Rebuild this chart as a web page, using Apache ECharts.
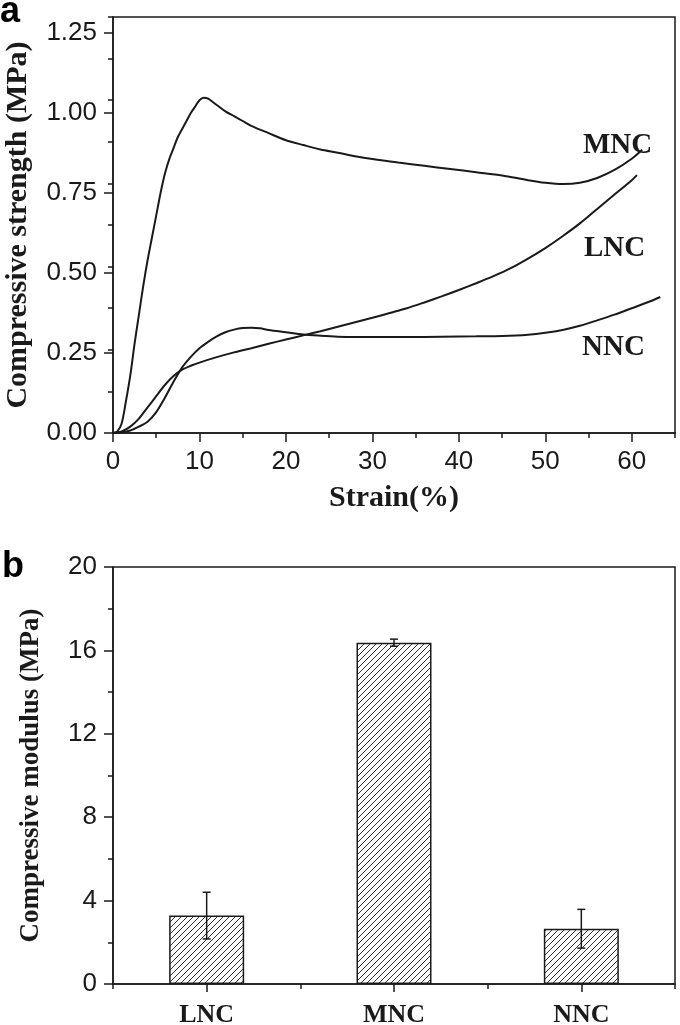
<!DOCTYPE html>
<html>
<head>
<meta charset="utf-8">
<script src="https://cdn.jsdelivr.net/npm/echarts@6/dist/echarts.min.js"></script>
<style>
html,body{margin:0;padding:0;background:#fff;}
#chart{width:680px;height:1025px;}
</style>
</head>
<body>
<div id="chart"></div>
<script>
// ---- Panel a: stress-strain curves ----
const mncX = [0,0.5,1,1.5,2,2.5,3,3.5,4,4.5,5,5.5,6,6.5,7,7.5,8,8.5,9,9.5,10,10.5,11,12,13,14,15,16,18,20,22,24,26,28,30,33,36,39,42,45,48,50,52,54,56,58,60,61.2];
const mncY = [0,0.005,0.03,0.1,0.18,0.28,0.37,0.46,0.54,0.61,0.68,0.75,0.81,0.855,0.89,0.925,0.95,0.975,1.0,1.02,1.04,1.048,1.045,1.025,1.005,0.99,0.975,0.96,0.937,0.915,0.9,0.886,0.876,0.865,0.856,0.845,0.835,0.825,0.815,0.805,0.79,0.782,0.778,0.782,0.797,0.822,0.857,0.885];

const lncX = [0,1,2,3,4,5,6,7,8,9,10,12,14,16,18,20,22,24,26,28,30,32,34,36,38,40,42,44,46,48,50,52,54,56,58,60,60.6];
const lncY = [0,0.005,0.02,0.045,0.08,0.115,0.15,0.178,0.198,0.21,0.22,0.237,0.252,0.265,0.279,0.292,0.305,0.318,0.332,0.346,0.36,0.375,0.39,0.408,0.427,0.447,0.468,0.49,0.515,0.545,0.578,0.615,0.655,0.70,0.745,0.79,0.806];

const nncX = [0,1,2,3,4,5,6,7,8,9,10,11,12,13,14,15,16,17,18,20,22,24,26,28,30,34,38,42,45,48,50,52,54,56,58,60,62,63.3];
const nncY = [0,0.002,0.008,0.02,0.035,0.065,0.11,0.16,0.205,0.238,0.265,0.285,0.302,0.315,0.323,0.328,0.329,0.327,0.322,0.315,0.308,0.304,0.301,0.3,0.3,0.3,0.301,0.302,0.303,0.307,0.313,0.322,0.335,0.352,0.37,0.39,0.41,0.425];

const curveNames = ['MNC','LNC','NNC'];

// ---- Panel b: compressive modulus ----
const barCategories = ['LNC','MNC','NNC'];
const modulusMean = [3.28, 16.37, 2.65];
const modulusErr = [1.12, 0.17, 0.93];

const SERIF = '"Liberation Serif","Times New Roman",serif';
const SANS = '"Liberation Sans",Arial,sans-serif';
const INK = '#1a1a1a';

function zip(xs, ys){ return xs.map((x,i)=>[x, ys[i]]); }

// hatch pattern
const tile = document.createElement('canvas');
tile.width = 6; tile.height = 6;
(function(){
  const c = tile.getContext('2d');
  c.fillStyle = '#ffffff'; c.fillRect(0,0,6,6);
  c.strokeStyle = '#333333'; c.lineWidth = 1;
  c.beginPath();
  c.moveTo(0,6); c.lineTo(6,0);
  c.moveTo(-1,1); c.lineTo(1,-1);
  c.moveTo(5,7); c.lineTo(7,5);
  c.stroke();
})();

const chart = echarts.init(document.getElementById('chart'), null, {renderer:'canvas'});

const axisLineStyle = {color: INK, width: 1.5};
const tickStyle = {color: INK, width: 1.5};

const option = {
  backgroundColor: '#ffffff',
  animation: false,
  grid: [
    {left: 113, top: 17, width: 562, height: 416, show: true, borderColor: INK, borderWidth: 1.5, backgroundColor: 'transparent', outerBoundsMode: 'none', containLabel: false},
    {left: 113, top: 567, width: 562, height: 417, show: true, borderColor: INK, borderWidth: 1.5, backgroundColor: 'transparent', outerBoundsMode: 'none', containLabel: false}
  ],
  xAxis: [
    {
      gridIndex: 0, type: 'value', min: 0, max: 65, interval: 10, position: 'bottom',
      name: 'Strain(%)', nameLocation: 'middle', nameGap: 50,
      nameTextStyle: {fontFamily: SERIF, fontWeight: 'bold', fontSize: 30, color: INK},
      axisLine: {show: true, lineStyle: axisLineStyle},
      axisTick: {show: true, inside: false, length: 9, lineStyle: tickStyle},
      splitLine: {show: false},
      axisLabel: {showMaxLabel: false, margin: 16, fontFamily: SANS, fontSize: 26, color: INK}
    },
    {
      gridIndex: 1, type: 'category', data: barCategories, boundaryGap: true, position: 'bottom',
      axisLine: {show: true, lineStyle: axisLineStyle},
      axisTick: {show: true, alignWithLabel: true, length: 8, lineStyle: tickStyle},
      axisLabel: {margin: 18, fontFamily: SERIF, fontWeight: 'bold', fontSize: 26, color: INK},
      splitLine: {show: false}
    },
    {
      gridIndex: 1, type: 'category', data: barCategories, boundaryGap: true, position: 'bottom',
      axisLine: {show: false},
      axisTick: {show: true, alignWithLabel: false, length: 5, lineStyle: tickStyle},
      axisLabel: {show: false},
      splitLine: {show: false}
    },
    {
      // minor ticks of panel a x axis
      gridIndex: 0, type: 'value', min: 0, max: 65, interval: 5, position: 'bottom',
      axisLine: {show: false},
      axisTick: {show: true, length: 5, lineStyle: tickStyle},
      axisLabel: {show: false},
      splitLine: {show: false}
    }
  ],
  yAxis: [
    {
      gridIndex: 0, type: 'value', min: 0, max: 1.3, interval: 0.25, position: 'left',
      name: 'Compressive strength (MPa)', nameLocation: 'middle', nameGap: 80,
      nameTextStyle: {fontFamily: SERIF, fontWeight: 'bold', fontSize: 30, color: INK},
      axisLine: {show: true, lineStyle: axisLineStyle},
      axisTick: {show: true, length: 9, lineStyle: tickStyle},
      splitLine: {show: false},
      axisLabel: {showMaxLabel: false, margin: 16, fontFamily: SANS, fontSize: 26, color: INK,
        formatter: v => v.toFixed(2)}
    },
    {
      gridIndex: 1, type: 'value', min: 0, max: 20, interval: 4, position: 'left',
      name: 'Compressive modulus (MPa)', nameLocation: 'middle', nameGap: 68,
      nameTextStyle: {fontFamily: SERIF, fontWeight: 'bold', fontSize: 27, color: INK},
      axisLine: {show: true, lineStyle: axisLineStyle},
      axisTick: {show: true, length: 9, lineStyle: tickStyle},
      minorTick: {show: true, splitNumber: 2, length: 5, lineStyle: tickStyle},
      splitLine: {show: false},
      axisLabel: {margin: 16, fontFamily: SANS, fontSize: 26, color: INK}
    },
    {
      // minor ticks of panel a y axis
      gridIndex: 0, type: 'value', min: 0, max: 1.25, interval: 0.125, position: 'left',
      axisLine: {show: false},
      axisTick: {show: true, length: 5, lineStyle: tickStyle},
      axisLabel: {show: false},
      splitLine: {show: false}
    }
  ],
  series: [
    {name: curveNames[0], type: 'line', xAxisIndex: 0, yAxisIndex: 0, data: zip(mncX, mncY),
      showSymbol: false, smooth: 0.3, lineStyle: {color: INK, width: 2}},
    {name: curveNames[1], type: 'line', xAxisIndex: 0, yAxisIndex: 0, data: zip(lncX, lncY),
      showSymbol: false, smooth: 0.3, lineStyle: {color: INK, width: 2}},
    {name: curveNames[2], type: 'line', xAxisIndex: 0, yAxisIndex: 0, data: zip(nncX, nncY),
      showSymbol: false, smooth: 0.3, lineStyle: {color: INK, width: 2}},
    {name: 'Modulus', type: 'bar', xAxisIndex: 1, yAxisIndex: 1, data: modulusMean, barWidth: 75,
      itemStyle: {color: {image: tile, repeat: 'repeat'}, borderColor: INK, borderWidth: 1.5}},
    {name: 'Error', type: 'custom', xAxisIndex: 1, yAxisIndex: 1,
      data: modulusMean.map((m,i)=>[i, m - modulusErr[i], m + modulusErr[i]]),
      encode: {x: 0, y: [1,2]}, z: 10,
      renderItem: function(params, api){
        const lo = api.coord([api.value(0), api.value(1)]);
        const hi = api.coord([api.value(0), api.value(2)]);
        const cap = 4;
        const st = {stroke: INK, lineWidth: 1.5};
        return {type: 'group', children: [
          {type: 'line', shape: {x1: lo[0], y1: lo[1], x2: hi[0], y2: hi[1]}, style: st},
          {type: 'line', shape: {x1: hi[0]-cap, y1: hi[1], x2: hi[0]+cap, y2: hi[1]}, style: st},
          {type: 'line', shape: {x1: lo[0]-cap, y1: lo[1], x2: lo[0]+cap, y2: lo[1]}, style: st}
        ]};
      }
    }
  ],
  graphic: [
    {type: 'text', left: 0, top: -6, style: {text: 'a', font: 'bold 36px ' + SANS, fill: '#000'}},
    {type: 'text', left: 2, top: 549, style: {text: 'b', font: 'bold 36px ' + SANS, fill: '#000'}},
    {type: 'text', left: 583, top: 131, style: {text: curveNames[0], font: 'bold 29px ' + SERIF, fill: INK}},
    {type: 'text', left: 584, top: 234, style: {text: curveNames[1], font: 'bold 29px ' + SERIF, fill: INK}},
    {type: 'text', left: 582, top: 333, style: {text: curveNames[2], font: 'bold 29px ' + SERIF, fill: INK}}
  ]
};

chart.setOption(option);
</script>
</body>
</html>
